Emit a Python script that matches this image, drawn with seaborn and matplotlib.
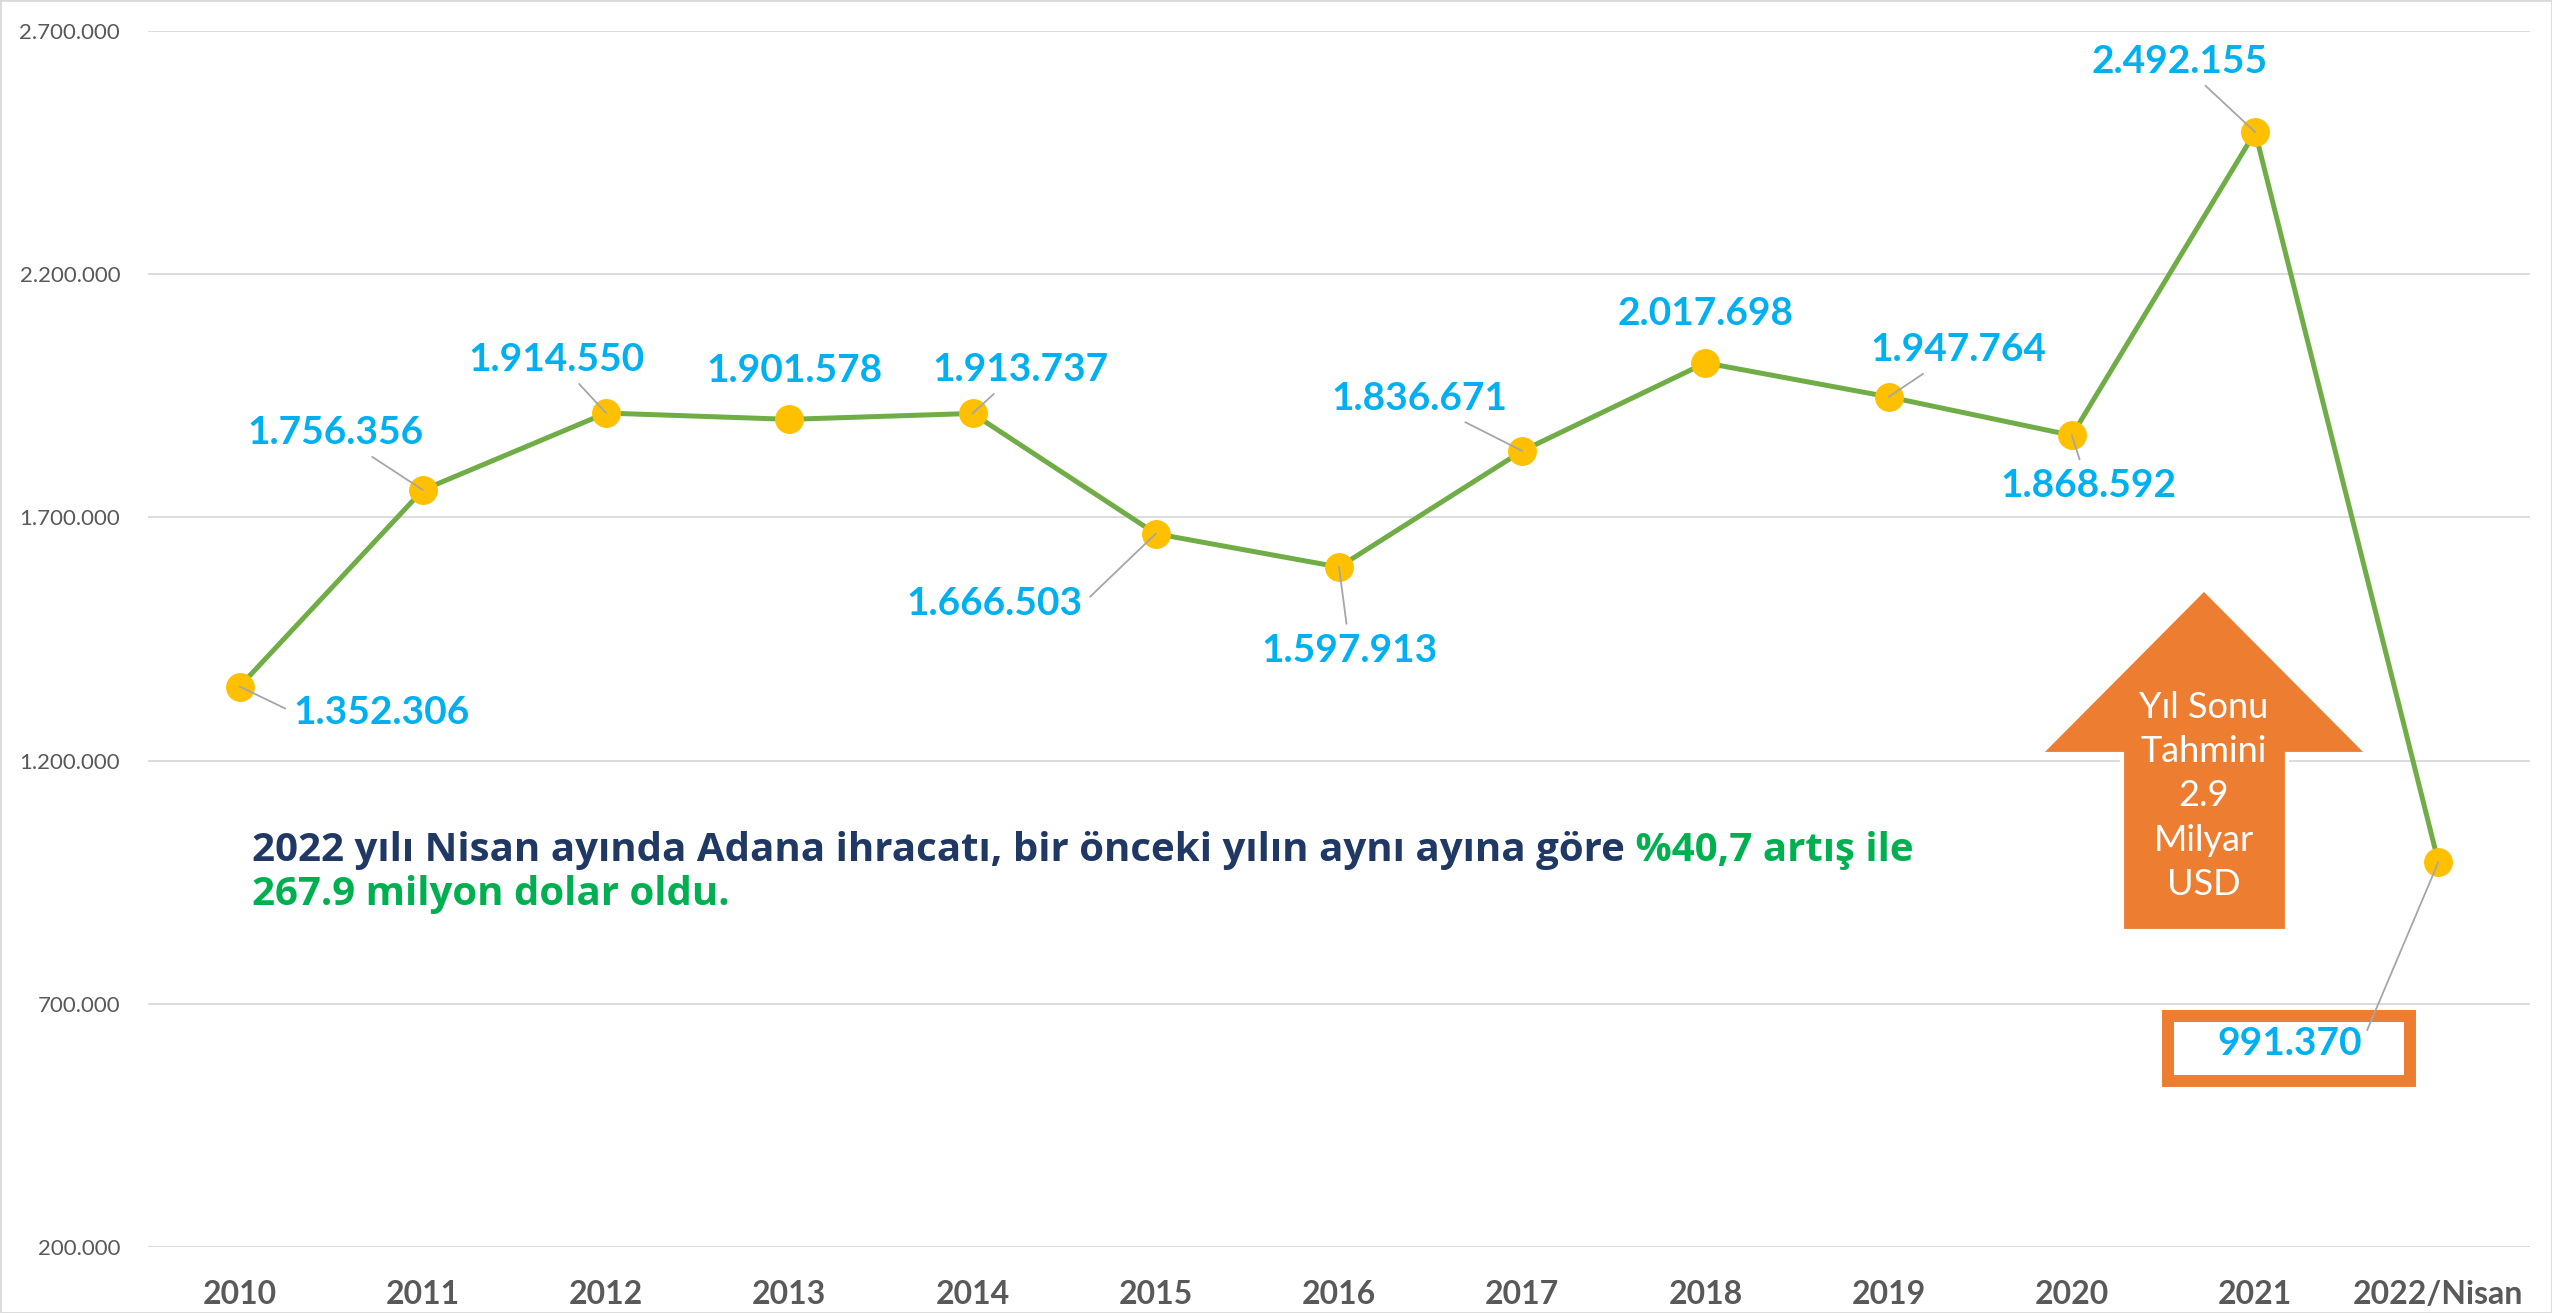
import numpy as np
import pandas as pd
import seaborn as sns
import matplotlib.pyplot as plt
from matplotlib.patches import Rectangle, Polygon
from matplotlib.ticker import FuncFormatter

# Veriler
yillar = ["2010", "2011", "2012", "2013", "2014", "2015", "2016",
          "2017", "2018", "2019", "2020", "2021", "2022/Nisan"]
ihracat = [1352306, 1756356, 1914550, 1901578, 1913737, 1666503, 1597913,
           1836671, 2017698, 1947764, 1868592, 2492155, 991370]
# etiketlerin noktaya gore kaymasi (piksel), kilavuz cizgisi ve baglanti yeri
etiket_kayma = [(142, -26), (-87, 57), (-50, 54), (5, 49), (48, 44), (-161, -70),
                (11, -83), (-103, 52), (0, 49), (70, 47), (16, -50), (-76, 71),
                (-149, -181)]
kilavuz = [True, True, True, False, True, True, True, True, False, True, True,
           True, True]
baglanti = [(0, 0.5), (0.5, 0.5), (0.5, 0.5), (0.5, 0.5), (0.5, 0.5), (1, 0.5),
            (0.5, 0.5), (0.5, 0.5), (0.5, 0.5), (0.5, 0.5), (0.5, 0.5), (0.5, 0.5),
            (1, 0.5)]
y_tikler = [200000, 700000, 1200000, 1700000, 2200000, 2700000]

W, H = 2552, 1313


def px(x, y):
    return (x / W, 1 - y / H)


df = pd.DataFrame({"sira": np.arange(len(yillar)), "ihracat": ihracat})

sns.set_theme(style="white")
plt.rcParams["font.family"] = ["Lato", "DejaVu Sans"]

fig = plt.figure(figsize=(W / 100, H / 100), dpi=100)
fig.patch.set_facecolor("white")
ax = fig.add_axes([148 / W, 1 - 1247 / H, (2530 - 148) / W, 1216 / H])

sns.lineplot(data=df, x="sira", y="ihracat", ax=ax, color="#70AD47",
             linewidth=3.6, marker="o", markersize=20,
             markerfacecolor="#FFC000", markeredgecolor="#FFC000", zorder=3)

ax.set_xlim(-0.5, len(yillar) - 0.5)
ax.set_ylim(200000, 2700000)
ax.set_yticks(y_tikler)
ax.set_xticks(np.arange(len(yillar)))
ax.set_xticklabels(yillar)
ax.yaxis.set_major_formatter(FuncFormatter(lambda v, p: f"{int(v):,}".replace(",", ".")))
ax.grid(axis="y", color="#D9D9D9", linewidth=1.3)
ax.grid(axis="x", visible=False)
ax.set_axisbelow(True)
sns.despine(ax=ax, left=True, bottom=True)
ax.tick_params(axis="y", length=0, pad=20, labelsize=16, labelcolor="#595959")
ax.tick_params(axis="x", length=0, pad=24, labelsize=23, labelcolor="#595959")
for t in ax.get_xticklabels():
    t.set_fontweight("bold")
ax.set_xlabel("")
ax.set_ylabel("")

# Veri etiketleri
for i, (v, (dx, dy), k, rp) in enumerate(zip(ihracat, etiket_kayma, kilavuz, baglanti)):
    metin = f"{v:,}".replace(",", ".")
    ok = dict(arrowstyle="-", color="#A6A6A6", lw=1.3, shrinkA=4, shrinkB=0,
              relpos=rp) if k else None
    ax.annotate(metin, xy=(i, v), xytext=(dx, dy), textcoords="offset pixels",
                ha="center", va="center", fontsize=28, fontweight="bold",
                color="#00B0F0", arrowprops=ok, zorder=6)

# 991.370 cercevesi
ax.add_patch(Rectangle(px(2168, 1081), 242 / W, 65 / H, transform=fig.transFigure,
                       facecolor="white", edgecolor="#ED7D31", linewidth=8.6, zorder=5))

# Yil sonu tahmini oku
ok_koseler = [px(2204, 589), px(2368, 754), px(2287, 754), px(2287, 931),
              px(2122, 931), px(2122, 754), px(2040, 754)]
ax.add_patch(Polygon(ok_koseler, closed=True, transform=fig.transFigure,
                     facecolor="#ED7D31", edgecolor="white", linewidth=3, zorder=4))
ax.text(*px(2204, 796), "Yıl Sonu\nTahmini\n2.9\nMilyar\nUSD", transform=fig.transFigure,
        ha="center", va="center", fontsize=26, color="white", linespacing=1.42, zorder=5)

# Aciklama metni
yazi = dict(fontsize=29, fontweight="bold", family=["Open Sans", "DejaVu Sans"])
t1 = fig.text(*px(252, 850), "2022 yılı Nisan ayında Adana ihracatı, bir önceki yılın aynı ayına göre",
              ha="left", va="center", color="#1F3864", **yazi)
ax.annotate(" %40,7 artış ile", xy=(1, 0), xycoords=t1, ha="left", va="bottom",
            color="#00B050", annotation_clip=False, **yazi)
fig.text(*px(252, 895), "267.9 milyon dolar oldu.", ha="left", va="center",
         color="#00B050", **yazi)

# Cerceve
fig.add_artist(Rectangle((0, 0), 1, 1, transform=fig.transFigure, fill=False,
                         edgecolor="#D9D9D9", linewidth=2))

fig.savefig("out.png", dpi=100)
